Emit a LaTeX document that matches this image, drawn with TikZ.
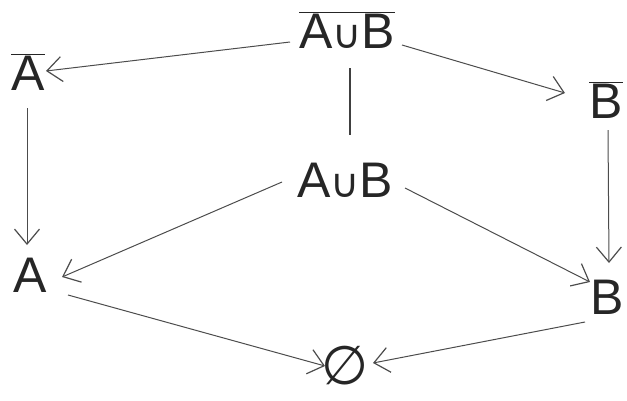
\documentclass[tikz,border=0pt]{standalone}
\usepackage{fontspec}
\setmainfont{Liberation Sans}
\newfontfamily\symfont{DejaVu Sans}
\usetikzlibrary{arrows.meta}
\newcommand{\cupsym}{{\symfont\fontsize{40}{48}\selectfont ∪}}
\newcommand{\bardd}[1]{$\overline{\hbox{#1}}$}
\begin{document}
\begin{tikzpicture}[x=1pt,y=-1pt,
  lbl/.style={inner sep=1pt,font=\fontsize{50}{60}\selectfont,text=black!85},
  edge/.style={draw=black!70,line width=1pt,-{Straight Barb[length=15pt,width=25pt,line width=1.2pt]}},
  plain/.style={draw=black!75,line width=1.2pt}]
\useasboundingbox (0,0) rectangle (627,400);
% set expressions
\node[lbl] (top) at (347,30) {\bardd{A\cupsym B}};
\node[lbl] (na) at (28,72) {\bardd{A}};
\node[lbl] (nb) at (606,100) {\bardd{B}};
\node[lbl] (mid) at (345,180) {A\cupsym B};
\node[lbl] (a) at (30,275) {A};
\node[lbl] (b) at (607,297) {B};
\node[lbl,font=\fontsize{54}{60}\selectfont] (e) at (345,366) {{\symfont ∅}};
% connectors between the sets
\draw[edge] ([shift={(-57,12)}]top.center) -- ([shift={(18,-1)}]na.center);
\draw[edge] ([shift={(55,15)}]top.center) -- ([shift={(-41,-7)}]nb.center);
\draw[plain] ([shift={(3,38)}]top.center) -- ([shift={(5,-45)}]mid.center);
\draw[edge] ([shift={(-1,36)}]na.center) -- ([shift={(-3,-30)}]a.center);
\draw[edge] ([shift={(2,30)}]nb.center) -- ([shift={(2,-34)}]b.center);
\draw[edge] ([shift={(-63,2)}]mid.center) -- ([shift={(32,2)}]a.center);
\draw[edge] ([shift={(60,8)}]mid.center) -- ([shift={(-17,-15)}]b.center);
\draw[edge] ([shift={(38,20)}]a.center) -- ([shift={(-20,0)}]e.center);
\draw[edge] ([shift={(-22,25)}]b.center) -- ([shift={(28,-3)}]e.center);
\end{tikzpicture}
\end{document}
